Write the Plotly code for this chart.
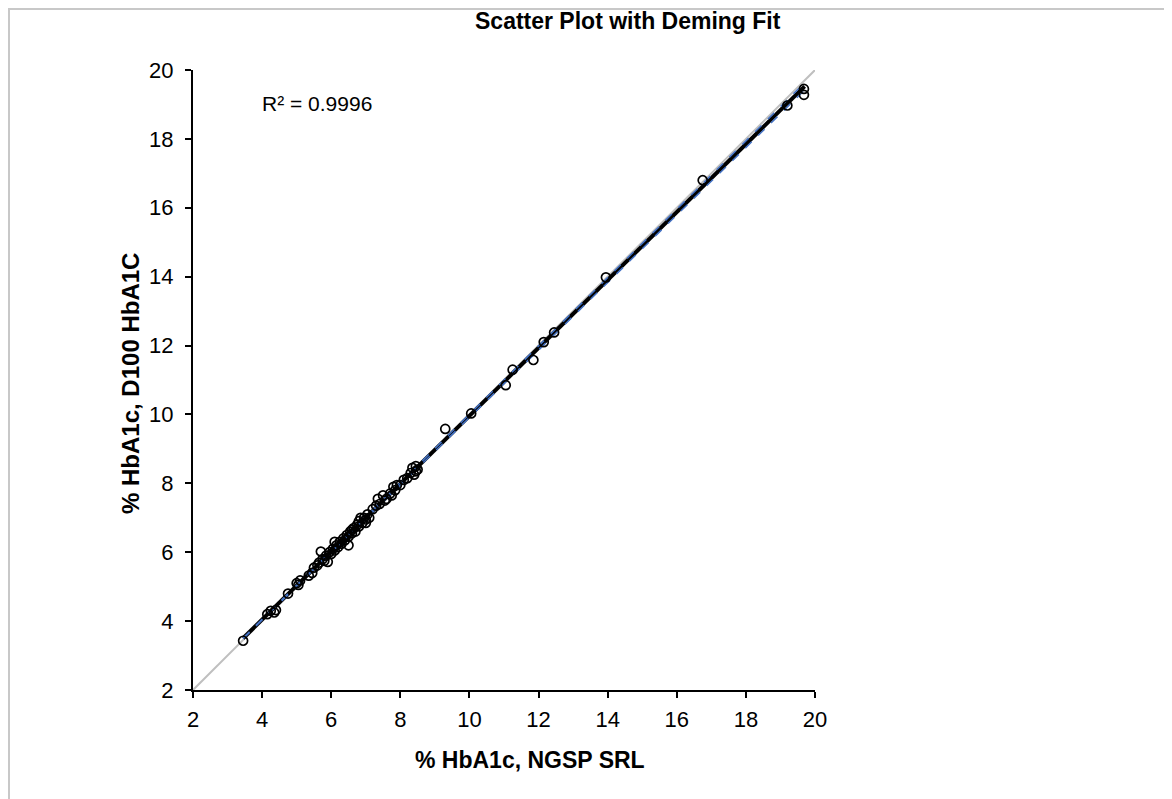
import plotly.graph_objects as go

# ---- data ----
srl_x = [3.45, 4.15, 4.25, 4.35, 4.40, 4.75, 5.00, 5.05, 5.10, 5.35, 5.45, 5.50, 5.60, 5.65,
         5.70, 5.75, 5.80, 5.85, 5.90, 5.95, 6.00, 6.05, 6.10, 6.10, 6.15, 6.20, 6.25, 6.30,
         6.35, 6.40, 6.45, 6.50, 6.50, 6.55, 6.60, 6.60, 6.65, 6.70, 6.75, 6.80, 6.80, 6.85,
         6.90, 6.95, 7.00, 7.00, 7.05, 7.10, 7.20, 7.30, 7.35, 7.40, 7.50, 7.55, 7.60, 7.70,
         7.75, 7.80, 7.85, 7.90, 8.00, 8.10, 8.20, 8.30, 8.35, 8.40, 8.45, 8.45, 8.50,
         9.30, 10.05, 11.05, 11.25, 11.85, 12.15, 12.45, 13.95, 16.75, 19.20, 19.68, 19.68]
d100_y = [3.43, 4.20, 4.30, 4.25, 4.32, 4.80, 5.10, 5.05, 5.18, 5.32, 5.40, 5.55, 5.62, 5.70,
          6.02, 5.80, 5.75, 5.90, 5.72, 6.00, 5.95, 6.10, 6.30, 6.05, 6.20, 6.15, 6.30, 6.25,
          6.40, 6.35, 6.50, 6.20, 6.45, 6.60, 6.55, 6.65, 6.70, 6.60, 6.80, 6.75, 6.90, 7.00,
          6.85, 7.00, 6.95, 6.85, 7.10, 7.00, 7.25, 7.35, 7.55, 7.40, 7.65, 7.50, 7.55, 7.70,
          7.65, 7.90, 7.80, 7.95, 7.95, 8.10, 8.15, 8.30, 8.45, 8.25, 8.35, 8.50, 8.40,
          9.58, 10.03, 10.85, 11.30, 11.58, 12.10, 12.38, 13.98, 16.80, 18.97, 19.28, 19.45]

title_text = "Scatter Plot with Deming Fit"
x_title = "% HbA1c, NGSP SRL"
y_title = "% HbA1c, D100 HbA1C"
r_squared_text = "R² = 0.9996"
identity_x = [2, 20]
fit_x = [3.45, 19.70]
deming_intercept = 0.10
deming_slope = 0.986
ci_low_intercept, ci_low_slope = 0.11, 0.980
ci_high_intercept, ci_high_slope = 0.086, 0.992
tick_vals = [2, 4, 6, 8, 10, 12, 14, 16, 18, 20]

fit_y = [deming_intercept + deming_slope * v for v in fit_x]
ci_low_y = [ci_low_intercept + ci_low_slope * v for v in fit_x]
ci_high_y = [ci_high_intercept + ci_high_slope * v for v in fit_x]

FONT = "Liberation Sans, Arial, sans-serif"

# page has an 8px body margin; figure geometry compensates for it
W, H = 1164, 791
L, T, PW, PH = 185, 62, 622, 620
R, B = W - L - PW, H - T - PH


def px(x):  # page pixel -> paper x
    return (x - 8 - L) / PW


def py(y):  # page pixel -> paper y
    return (T + PH - (y - 8)) / PH


fig = go.Figure()
fig.add_trace(go.Scatter(x=identity_x, y=identity_x, mode="lines",
                         line=dict(color="#bfbfbf", width=2), hoverinfo="skip"))
fig.add_trace(go.Scatter(x=fit_x, y=fit_y, mode="lines",
                         line=dict(color="black", width=4)))
for cy in (ci_low_y, ci_high_y):
    fig.add_trace(go.Scatter(x=fit_x, y=cy, mode="lines",
                             line=dict(color="#4472c4", width=1.5, dash="dash")))
fig.add_trace(go.Scatter(x=srl_x, y=d100_y, mode="markers",
                         marker=dict(symbol="circle-open", size=9, color="black",
                                     line=dict(width=1.7, color="black"))))

axis_common = dict(range=[2, 20], tickvals=tick_vals, showgrid=False, zeroline=False,
                   showline=True, linecolor="black", linewidth=2,
                   ticks="outside", ticklen=6, tickwidth=2, tickcolor="black",
                   tickfont=dict(family=FONT, size=22, color="black"))

fig.update_layout(
    width=W, height=H,
    margin=dict(l=L, r=R, t=T, b=B),
    paper_bgcolor="white", plot_bgcolor="white",
    showlegend=False,
    xaxis=dict(**axis_common, ticklabelstandoff=3),
    yaxis=dict(**axis_common, ticklabelstandoff=7),
    annotations=[
        dict(text="<b>" + title_text + "</b>", xref="paper", yref="paper",
             x=px(628), y=py(21), xanchor="center", yanchor="middle", showarrow=False,
             font=dict(family=FONT, size=23, color="black")),
        dict(text="<b>" + x_title + "</b>", xref="paper", yref="paper",
             x=px(530), y=py(760), xanchor="center", yanchor="middle", showarrow=False,
             font=dict(family=FONT, size=23, color="black")),
        dict(text="<b>" + y_title + "</b>", xref="paper", yref="paper", textangle=-90,
             x=px(130), y=py(384), xanchor="center", yanchor="middle", showarrow=False,
             font=dict(family=FONT, size=24, color="black")),
        dict(text=r_squared_text, xref="paper", yref="paper",
             x=px(260), y=py(104), xanchor="left", yanchor="middle", showarrow=False,
             font=dict(family=FONT, size=21, color="black")),
    ],
    shapes=[dict(type="rect", xref="paper", yref="paper",
                 x0=px(9), x1=px(1200),
                 y0=py(830), y1=py(9),
                 line=dict(color="#c8c8c8", width=2), layer="below")],
)

fig.write_html("out.html")
